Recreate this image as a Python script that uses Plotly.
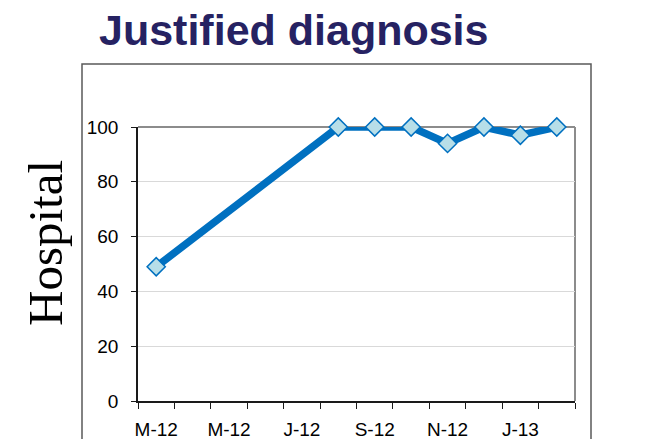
import plotly.graph_objects as go

months = ["Mar-12", "Apr-12", "May-12", "Jun-12", "Jul-12", "Aug-12",
          "Sep-12", "Oct-12", "Nov-12", "Dec-12", "Jan-13", "Feb-13"]
values = [49, None, None, None, None, 100, 100, 100, 94, 100, 97, 100]
tick_positions = [0, 2, 4, 6, 8, 10]
tick_labels = ["M-12", "M-12", "J-12", "S-12", "N-12", "J-13"]
y_ticks = [0, 20, 40, 60, 80, 100]

W, H = 654, 439
L, R, T, B = 138, 575, 127, 401
pw, ph = R - L, B - T


def px(x):
    return (x - L) / pw


def py(y):
    return (B - y) / ph


xs = list(range(len(months)))

fig = go.Figure()
fig.add_trace(go.Scatter(
    x=xs, y=values, mode="lines+markers", connectgaps=True, cliponaxis=False,
    line=dict(color="#0070C0", width=7.5),
    marker=dict(symbol="diamond", size=14, color="#B7DEE8",
                line=dict(color="#0070C0", width=1.5)),
    hovertext=months, showlegend=False,
))

fig.update_layout(
    width=W, height=H,
    margin=dict(l=L, r=W - R, t=T, b=H - B, autoexpand=False),
    paper_bgcolor="white", plot_bgcolor="white",
    font=dict(family="Liberation Sans, Arial", size=19, color="black"),
    xaxis=dict(
        range=[-0.5, len(months) - 0.5],
        tickmode="array", tickvals=tick_positions, ticktext=tick_labels,
        ticks="", showgrid=False, zeroline=False,
        showline=True, linecolor="#1a1a1a", linewidth=1.5,
        tickfont=dict(size=19), ticklabelstandoff=10,
        minor=dict(tickmode="array",
                   tickvals=[i - 0.5 for i in range(len(months) + 1)],
                   ticks="outside", ticklen=6, tickwidth=1.2,
                   tickcolor="#1a1a1a", showgrid=False),
    ),
    yaxis=dict(
        range=[0, 100], tickmode="array", tickvals=y_ticks,
        ticks="outside", ticklen=5, tickwidth=1.2, tickcolor="#1a1a1a",
        showline=True, linecolor="#1a1a1a", linewidth=1.5,
        showgrid=True, gridcolor="#D9D9D9", gridwidth=1,
        zeroline=False, tickfont=dict(size=19), ticklabelstandoff=9,
    ),
    shapes=[
        # outer chart border
        dict(type="rect", xref="paper", yref="paper",
             x0=px(82), x1=px(591), y0=py(470), y1=py(64),
             line=dict(color="#595959", width=1.5), layer="below"),
        # plot area top and right border
        dict(type="line", xref="paper", yref="paper",
             x0=0, x1=1, y0=1, y1=1,
             line=dict(color="#8C8C8C", width=2), layer="below"),
        dict(type="line", xref="paper", yref="paper",
             x0=1, x1=1, y0=0, y1=1,
             line=dict(color="#8C8C8C", width=2), layer="below"),
    ],
    annotations=[
        dict(text="<b>Justified diagnosis</b>", xref="paper", yref="paper",
             x=px(293), y=py(30), xanchor="center", yanchor="middle",
             showarrow=False,
             font=dict(family="Liberation Sans, Arial", size=43, color="#262262")),
        dict(text="Hospital", xref="paper", yref="paper",
             x=px(45), y=py(243), xanchor="center", yanchor="middle",
             textangle=-90, showarrow=False,
             font=dict(family="Liberation Serif, Times New Roman", size=49,
                       color="black")),
    ],
)

fig.write_html("out.html",
               config={"displayModeBar": False},
               post_script="document.body.style.margin='0';")
